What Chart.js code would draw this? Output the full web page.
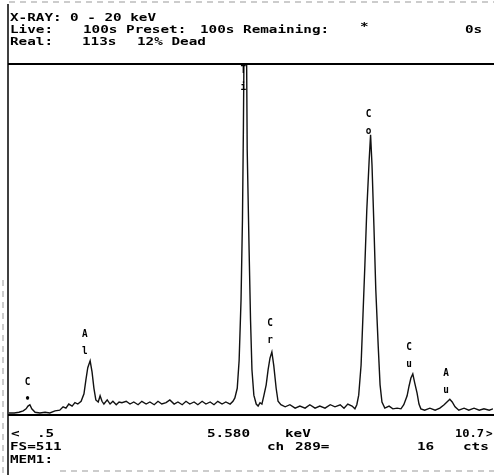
<!DOCTYPE html>
<html>
<head>
<meta charset="utf-8">
<script src="https://cdn.jsdelivr.net/npm/chart.js@4/dist/chart.umd.min.js"></script>
<style>
  body { margin: 0; background: #fff; }
  #wrap { width: 494px; height: 475px; }
</style>
</head>
<body>
<div id="wrap"><canvas id="spec" width="494" height="475"></canvas></div>
<script>
// energy (keV) and counts
var energies = [0.50, 0.61, 0.71, 0.80, 0.86, 0.90, 0.94, 0.98, 1.05, 1.15, 1.26, 1.36, 1.47, 1.57, 1.64, 1.70, 1.76, 1.83, 1.89, 1.95,
  2.02, 2.08, 2.12, 2.16, 2.21, 2.25, 2.29, 2.33, 2.38, 2.42, 2.46, 2.50, 2.57, 2.63, 2.69, 2.76, 2.82, 2.88, 2.97, 3.05,
  3.13, 3.22, 3.30, 3.39, 3.47, 3.56, 3.64, 3.72, 3.81, 3.89, 3.98, 4.06, 4.15, 4.23, 4.31, 4.40, 4.48, 4.57, 4.65, 4.74,
  4.82, 4.90, 4.99, 5.07, 5.16, 5.22, 5.26, 5.31, 5.35, 5.39, 5.42, 5.44, 5.46, 5.50, 5.52, 5.56, 5.59, 5.62, 5.66, 5.71,
  5.75, 5.79, 5.83, 5.87, 5.92, 5.96, 6.00, 6.04, 6.08, 6.13, 6.17, 6.23, 6.32, 6.42, 6.53, 6.63, 6.74, 6.84, 6.95, 7.05,
  7.16, 7.27, 7.37, 7.48, 7.56, 7.64, 7.73, 7.79, 7.83, 7.87, 7.92, 7.96, 8.00, 8.04, 8.09, 8.12, 8.15, 8.19, 8.23, 8.28,
  8.32, 8.36, 8.42, 8.51, 8.59, 8.68, 8.76, 8.82, 8.89, 8.93, 8.97, 9.01, 9.05, 9.10, 9.14, 9.18, 9.26, 9.37, 9.48, 9.58,
  9.67, 9.73, 9.79, 9.84, 9.90, 9.98, 10.09, 10.19, 10.30, 10.41, 10.51, 10.62, 10.70];
var counts = [3, 3, 4, 6, 9, 13, 15, 9, 4, 3, 4, 3, 6, 7, 12, 10, 16, 13, 18, 16,
  20, 31, 51, 69, 79, 63, 39, 22, 19, 28, 20, 16, 22, 16, 20, 15, 19, 18, 20, 16,
  19, 15, 20, 16, 19, 15, 20, 16, 18, 22, 16, 19, 15, 20, 16, 19, 15, 20, 16, 19,
  15, 20, 16, 19, 16, 20, 25, 39, 80, 168, 285, 420, 600, 600, 387, 241, 139, 66, 29, 16,
  13, 18, 16, 28, 44, 66, 83, 92, 72, 39, 20, 15, 12, 15, 10, 13, 10, 15, 10, 13,
  10, 15, 12, 15, 10, 16, 13, 9, 15, 29, 73, 146, 219, 299, 372, 409, 365, 277, 183, 102,
  44, 19, 10, 13, 9, 10, 9, 15, 28, 42, 54, 60, 47, 32, 16, 9, 7, 10, 7, 10,
  15, 19, 23, 19, 12, 7, 10, 7, 10, 7, 9, 7, 9];

// peak markers: element label, energy, counts where the label sits
var peakNames = ['C', 'Al', 'Ti', 'Cr', 'Co', 'Cu', 'Au'];
var peakEnergy = [0.89, 2.10, 5.44, 6.00, 8.08, 8.93, 9.71];
var peakLabelCts = [44, 114, 500, 130, 435, 95, 57];

var fullScale = 511;

var pts = energies.map(function (e, i) { return { x: e, y: counts[i] }; });

function txt(ctx, s, x, y, sx) {
  ctx.save();
  ctx.translate(x, y);
  ctx.scale(sx, 1);
  ctx.fillText(s, 0, 0);
  ctx.restore();
}

var frame = {
  id: 'frame',
  afterDraw: function (chart) {
    var ctx = chart.ctx, a = chart.chartArea;
    var xs = chart.scales.x, ys = chart.scales.y;
    ctx.save();
    ctx.strokeStyle = '#000';
    ctx.lineWidth = 2;
    ctx.beginPath();
    ctx.moveTo(a.left - 1, a.top - 1); ctx.lineTo(a.right + 1, a.top - 1);
    ctx.moveTo(a.left - 1, a.bottom); ctx.lineTo(a.right + 1, a.bottom);
    ctx.stroke();
    ctx.lineWidth = 1.5;
    ctx.beginPath();
    ctx.moveTo(a.left - 1, 4); ctx.lineTo(a.left - 1, 475);
    ctx.stroke();
    ctx.strokeStyle = '#999';
    ctx.lineWidth = 1;
    ctx.setLineDash([6, 5]);
    ctx.beginPath();
    ctx.moveTo(a.left, 2); ctx.lineTo(494, 2);
    ctx.moveTo(60, 471); ctx.lineTo(494, 471);
    ctx.moveTo(3, 280); ctx.lineTo(3, 475);
    ctx.stroke();
    ctx.setLineDash([]);

    ctx.fillStyle = '#000';
    ctx.textBaseline = 'alphabetic';
    ctx.font = 'bold 11px "DejaVu Sans Mono"';
    var sx = 1.3;
    // header
    txt(ctx, 'X-RAY:', 10, 21, sx);
    txt(ctx, '0 - 20 keV', 70, 21, sx);
    txt(ctx, 'Live:', 10, 33, sx);
    txt(ctx, '100s Preset:', 83, 33, sx);
    txt(ctx, '100s Remaining:', 200, 33, sx);
    txt(ctx, '*', 360, 30, sx);
    txt(ctx, '0s', 465, 33, sx);
    txt(ctx, 'Real:', 10, 45, sx);
    txt(ctx, '113s', 82, 45, sx);
    txt(ctx, '12% Dead', 137, 45, sx);
    // footer
    txt(ctx, '<', 11, 437, sx);
    txt(ctx, '.5', 37, 437, sx);
    txt(ctx, '5.580', 207, 437, sx);
    txt(ctx, 'keV', 285, 437, sx);
    txt(ctx, '10.7', 455, 437, 1.1);
    txt(ctx, '>', 486, 437, 1.0);
    txt(ctx, 'FS=511', 10, 450, sx);
    txt(ctx, 'ch', 267, 450, sx);
    txt(ctx, '289=', 295, 450, sx);
    txt(ctx, '16', 417, 450, sx);
    txt(ctx, 'cts', 463, 450, sx);
    txt(ctx, 'MEM1:', 10, 463, sx);

    // vertical element labels
    ctx.textAlign = 'center';
    for (var i = 0; i < peakNames.length; i++) {
      var px = xs.getPixelForValue(peakEnergy[i]);
      var py = ys.getPixelForValue(peakLabelCts[i]);
      var nm = peakNames[i];
      txt(ctx, nm.charAt(0), px, py, 0.85);
      txt(ctx, nm.length > 1 ? nm.charAt(1) : '\u2022', px, py + 17, 0.85);
    }
    ctx.restore();
  }
};

new Chart(document.getElementById('spec'), {
  type: 'line',
  data: {
    datasets: [{
      data: pts,
      borderColor: '#111',
      borderWidth: 1.4,
      pointRadius: 0,
      tension: 0,
      fill: false
    }]
  },
  options: {
    responsive: false,
    animation: false,
    devicePixelRatio: 1,
    layout: { padding: { left: 9, right: 1, top: 65, bottom: 60 } },
    plugins: { legend: { display: false }, tooltip: { enabled: false } },
    scales: {
      x: { type: 'linear', min: 0.5, max: 10.7, display: false },
      y: { min: 0, max: fullScale, display: false }
    }
  },
  plugins: [frame]
});
</script>
</body>
</html>
